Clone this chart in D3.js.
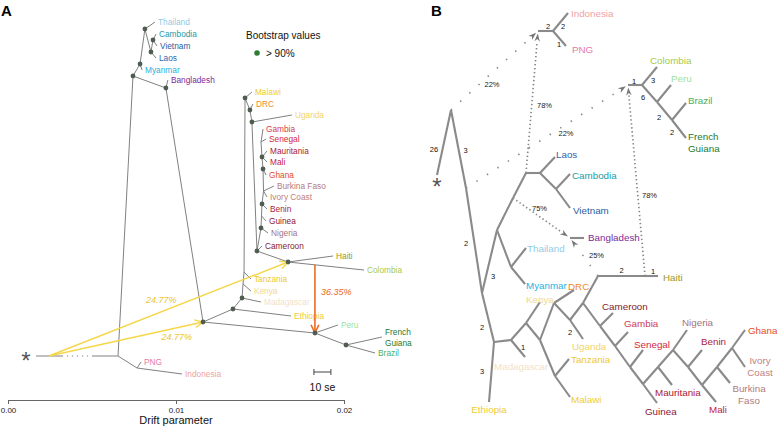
<!DOCTYPE html>
<html><head><meta charset="utf-8">
<script src="https://cdn.jsdelivr.net/npm/d3@7"></script>
<style>
body{margin:0;background:#fff}
svg{display:block}
text{font-family:"Liberation Sans",Arial,Helvetica,sans-serif}
</style>
</head><body>
<svg id="c" width="777" height="427"></svg>
<script>
// ================= DATA =================
// ---- Panel A (TreeMix tree): x = drift parameter, y = layout row ----
const driftTicks = [0.00, 0.01, 0.02];
// [id, drift, row, bootstrap>90%]
const nodesA = [
  ["root",0.00655,89,false],["pi",0.00768,92,false],["a1",0.00744,19,true],
  ["my",0.00786,16,true],["top",0.00815,7.25,true],["la",0.00851,13,true],
  ["cv",0.00863,10,true],["bg",0.0094,22,true],["af0",0.01161,80.5,true],
  ["pe",0.01827,83.25,true],["fgb",0.02012,86.25,true],["et",0.01339,77.25,true],
  ["md",0.01393,74.5,true],["ke",0.01399,71,false],["tz",0.01405,68,false],
  ["mw",0.01411,24.5,true],["drc",0.0144,27.5,true],["ug",0.01452,30.5,true],
  ["cm",0.01482,62.75,true],["hc",0.01667,65.5,true],["w_ng",0.01506,57,true],
  ["w_gu",0.01509,54,false],["w_be",0.01512,51,true],["w_bf",0.01521,47.75,false],
  ["w_gh",0.01518,42.25,true],["w_ma",0.01512,39.25,true],["w_se",0.01506,35.5,false]
];
const edgesA = [
  ["root","pi"],["root","a1"],["a1","my"],["my","top"],["top","la"],["la","cv"],
  ["a1","bg"],["bg","af0"],["af0","pe"],["pe","fgb"],["af0","et"],["et","md"],
  ["md","ke"],["ke","tz"],["tz","mw"],["mw","drc"],["drc","ug"],["ug","cm"],
  ["cm","hc"],["cm","w_ng"],["w_ng","w_gu"],["w_gu","w_be"],["w_be","w_bf"],
  ["w_bf","w_gh"],["w_gh","w_ma"],["w_ma","w_se"]
];
// [population, parent, drift, row]
const tipsA = [
  ["Thailand","top",0.00875,5.5],["Cambodia","cv",0.00881,8.5],["Vietnam","cv",0.00887,11.5],
  ["Laos","la",0.00881,14.5],["Myanmar","my",0.00798,17.5],["Bangladesh","bg",0.00952,20],
  ["Malawi","mw",0.01452,23],["DRC","drc",0.01458,26],["Uganda","ug",0.0169,28.75],
  ["Gambia","w_se",0.01518,32.25],["Senegal","w_se",0.01536,34.75],
  ["Mauritania","w_ma",0.01542,37.75],["Mali","w_ma",0.01542,40.5],
  ["Ghana","w_gh",0.01536,43.75],["Burkina Faso","w_bf",0.01583,46.5],
  ["Ivory Coast","w_bf",0.01542,49.25],["Benin","w_be",0.01542,52.25],
  ["Guinea","w_gu",0.01536,55.25],["Nigeria","w_ng",0.01548,58.25],
  ["Cameroon","cm",0.01512,61.5],["Haiti","hc",0.01935,64],["Colombia","hc",0.02119,67.5],
  ["Tanzania","tz",0.01446,69.75],["Kenya","ke",0.01446,72.75],
  ["Madagascar","md",0.01506,75.5],["Ethiopia","et",0.01685,79],
  ["Peru","pe",0.01964,81.25],["French Guiana","fgb",0.02226,84.25],
  ["Brazil","fgb",0.02185,88.25],["PNG","pi",0.00792,90.5],["Indonesia","pi",0.01036,93.5]
];
// outgroup branch: asterisk, solid start, dotted start, dotted end (drift)
const outgroupA = [0.00107, 0.00167, 0.00321, 0.00506];
// migration edges: source point [drift,row], target node, weight
const migrationsA = [
  {from:[0.00244,89], to:"hc",  weight:"24.77%", kind:"yellow"},
  {from:[0.00244,89], to:"af0", weight:"24.77%", kind:"yellow"},
  {from:[0.01827,66.2], to:"pe", weight:"36.35%", kind:"orange"}
];
const seBar = {drift:0.01821, length:0.00101, row:93, label:"10 se"};
const legendA = {title:"Bootstrap values", item:"> 90%"};

// ---- Panel B (admixture graph), layout units ----
const nodesB = [
  ["star",9.25,43.75],["T0",12.75,27.5],["N1",16.5,47],["B0",20.5,73.25],["A2",24.25,57.5],
  ["P75",28.25,49.5],["AS",31.5,43.25],["AL",35,43.25],["CV",39,47.25],["TM",27.75,66.75],
  ["E2",23.5,85.5],["M1",27.75,85],["K1",31.5,80.75],["K2",35,85],["D1",38.5,75.75],
  ["U1",42.5,80],["W0",45.75,75.75],["H0",49.5,69],["H1",61.25,69],["MT",38.75,94],
  ["C1",50,81.5],["G1",53.75,86.5],["S1",57.5,91.75],["X1",60.75,96],["MA1",64.5,91.75],
  ["NW",68.25,87.5],["BE1",72,91.75],["ML1",75.5,96.25],["BF1",79.25,91.75],["IC1",83,87],
  ["PA",34.5,7.75],["PB",38.25,7.75],["CA",57,21.25],["CB",60.5,21.25],["CP",64.25,25.5],
  ["CBr",68,30],["BA",42.5,59.5]
];
const edgesB = [
  ["star","T0"],["T0","N1"],["N1","B0"],["B0","A2"],["A2","P75"],["P75","AS"],["AS","AL"],
  ["AL","CV"],["A2","TM"],["B0","E2"],["E2","M1"],["M1","K1"],["K1","K2"],["K2","D1"],
  ["D1","U1"],["U1","W0"],["W0","H0"],["H0","H1"],["W0","C1"],["C1","G1"],["G1","S1"],
  ["S1","X1"],["X1","MA1"],["MA1","NW"],["NW","BE1"],["BE1","ML1"],["ML1","BF1"],
  ["BF1","IC1"],["K2","MT"],["PA","PB"],["CA","CB"],["CB","CP"],["CP","CBr"]
];
const tipsB = [
  ["Indonesia","PB",42,3.25],["PNG","PB",41.5,11.5],["Colombia","CB",64.25,16.75],
  ["Peru","CP",67.75,21.25],["Brazil","CBr",71.5,25.75],["French Guiana","CBr",71.5,34.5],
  ["Laos","AL",38.75,39.25],["Cambodia","CV",42.5,43.5],["Vietnam","CV",42.5,52],
  ["Bangladesh","BA",46,59.5],["Thailand","TM",31.5,62],["Myanmar","TM",31.25,71],
  ["DRC","D1",43.5,72.5],["Kenya","K1",35,75.5],["Haiti","H1",64.5,69],
  ["Cameroon","C1",53.25,78.25],["Gambia","G1",57,83],["Senegal","S1",60.75,87.5],
  ["Uganda","U1",45.75,84.75],["Tanzania","MT",42.25,89.75],["Malawi","MT",42.5,99.25],
  ["Madagascar","M1",31.25,89.25],["Ethiopia","E2",22.25,100.5],["Guinea","X1",64.25,100.75],
  ["Mauritania","MA1",68,96.25],["Nigeria","NW",71.75,82.5],["Benin","BE1",75.5,87.5],
  ["Mali","ML1",79,100.5],["Burkina Faso","BF1",82.5,95.75],["Ivory Coast","IC1",86.25,91.75],
  ["Ghana","IC1",86.25,82.5]
];
// drift values written on edges
const edgeWeightsB = [
  ["star","T0","26"],["T0","N1","3"],["N1","B0","2"],["B0","A2","3"],["B0","E2","2"],
  ["E2","Ethiopia","3"],["M1","Madagascar","1"],["U1","Uganda","2"],["H0","H1","2"],
  ["H1","Haiti","1"],["PA","PB","2"],["PB","Indonesia","2"],["PB","PNG","1"],
  ["CA","CB","1"],["CB","Colombia","3"],["CB","CP","6"],["CP","CBr","2"],["CBr","French Guiana","2"]
];
// admixture edges [from, to, percent]
const admixB = [
  ["T0","PA",22],["AS","PA",78],["N1","CA",22],["H1","CA",78],["P75","BA",75],["H0","BA",25]
];

const popColor = {
  "Thailand":"#92cbe6","Cambodia":"#1c9aa6","Vietnam":"#2d5c9c","Laos":"#2f64ad",
  "Myanmar":"#1cb3e0","Bangladesh":"#7b2b99","Malawi":"#f0cd2b","DRC":"#ec8a1f",
  "Uganda":"#f3d566","Tanzania":"#efc92e","Kenya":"#f2d88f","Madagascar":"#f4dfc6",
  "Ethiopia":"#f0cc38","Gambia":"#cf404f","Senegal":"#d2283e","Mauritania":"#ac1a30",
  "Mali":"#c5203c","Ghana":"#e44b27","Burkina Faso":"#b47b7d","Ivory Coast":"#bf7f82",
  "Benin":"#ac2338","Guinea":"#891739","Nigeria":"#a67480","Cameroon":"#891a29",
  "Haiti":"#9c9819","Colombia":"#a6c94b","Peru":"#a0df9a","Brazil":"#48b066",
  "French Guiana":"#1d7a2d","PNG":"#e67aa6","Indonesia":"#efa3a3"
};

// ================= DRAWING =================
const svg = d3.select("#c");
const xA = d3.scaleLinear().domain([0,0.02]).range([8,344]);
const yA = d3.scaleLinear().domain([0,100]).range([0,400]);
const xB = d3.scaleLinear().domain([0,100]).range([400,800]);
const yB = d3.scaleLinear().domain([0,100]).range([0,400]);

function addLabel(g, x, y, lines, anchor, lh, fs, color){
  const t = g.append("text").attr("x",x).attr("y",y).attr("text-anchor",anchor)
    .attr("font-size",fs).attr("fill",color).attr("dominant-baseline","central");
  lines.forEach((s,i)=>t.append("tspan").attr("x",x).attr("dy", i===0? (-(lines.length-1)*lh/2)+"px" : lh+"px").text(s));
  return t;
}

// ---------- Panel A ----------
const gA = svg.append("g");
const nA = new Map(nodesA.map(d=>[d[0],{x:xA(d[1]),y:yA(d[2]),boot:d[3]}]));
const lineCol = "#818181";

// axis
const axis = d3.axisBottom(xA).tickValues(driftTicks).tickFormat(d3.format(".2f")).tickSize(4).tickSizeOuter(0);
const ax = gA.append("g").attr("transform","translate(0,400)").call(axis);
ax.select(".domain").attr("stroke","#666");
ax.selectAll(".tick line").attr("stroke","#666");
ax.selectAll(".tick text").attr("font-size",8).attr("fill","#222").attr("font-family","Liberation Sans, Arial, sans-serif");
gA.append("text").attr("x",xA(0.01)).attr("y",424).attr("text-anchor","middle")
  .attr("font-size",11).attr("fill","#111").text("Drift parameter");

// outgroup
const rootA = nA.get("root");
gA.append("line").attr("x1",xA(outgroupA[1])).attr("x2",xA(outgroupA[2])).attr("y1",rootA.y).attr("y2",rootA.y).attr("stroke",lineCol).attr("stroke-width",1);
gA.append("line").attr("x1",xA(outgroupA[2])).attr("x2",xA(outgroupA[3])).attr("y1",rootA.y).attr("y2",rootA.y).attr("stroke",lineCol).attr("stroke-width",1.2).attr("stroke-dasharray","1.2,3.8");
gA.append("line").attr("x1",xA(outgroupA[3])).attr("x2",rootA.x).attr("y1",rootA.y).attr("y2",rootA.y).attr("stroke",lineCol).attr("stroke-width",1);
gA.append("text").attr("x",xA(outgroupA[0])).attr("y",rootA.y+13).attr("text-anchor","middle").attr("font-size",24).attr("fill","#555").text("*");

// edges
edgesA.forEach(([a,b])=>{
  const p=nA.get(a), q=nA.get(b);
  gA.append("line").attr("x1",p.x).attr("y1",p.y).attr("x2",q.x).attr("y2",q.y).attr("stroke",lineCol).attr("stroke-width",1);
});
tipsA.forEach(([name,par,d,r])=>{
  const p=nA.get(par), x=xA(d), y=yA(r);
  gA.append("line").attr("x1",p.x).attr("y1",p.y).attr("x2",x).attr("y2",y).attr("stroke",lineCol).attr("stroke-width",1);
  const lines = name==="French Guiana" ? ["French","Guiana"] : [name];
  addLabel(gA, x+3, y, lines, "start", 11, 8.3, popColor[name]);
});

// migrations
const migCol = {yellow:"#f6d64a", orange:"#ee6b22"};
const migLabCol = {yellow:"#e9c431", orange:"#ea6a22"};
const migLabelPlace = [{t:0.47,dx:0,dy:-12,a:"middle"},{t:0.83,dx:0,dy:9,a:"middle"},{t:0.4,dx:6,dy:0,a:"start"}];
function chevron(g,x1,y1,x2,y2,len,col,w){
  const a=Math.atan2(y2-y1,x2-x1), s=0.45;
  const p1=[x2-len*Math.cos(a-s), y2-len*Math.sin(a-s)];
  const p2=[x2-len*Math.cos(a+s), y2-len*Math.sin(a+s)];
  g.append("path").attr("d",`M${p1[0]},${p1[1]}L${x2},${y2}L${p2[0]},${p2[1]}`)
    .attr("fill","none").attr("stroke",col).attr("stroke-width",w);
}
migrationsA.forEach((m,i)=>{
  const x1=xA(m.from[0]), y1=yA(m.from[1]), q=nA.get(m.to);
  const w = m.kind==="orange"?1.6:1.4;
  gA.append("line").attr("x1",x1).attr("y1",y1).attr("x2",q.x).attr("y2",q.y).attr("stroke",migCol[m.kind]).attr("stroke-width",w);
  chevron(gA,x1,y1,q.x,q.y,9,migCol[m.kind],w);
  const L=migLabelPlace[i];
  gA.append("text").attr("x",x1+(q.x-x1)*L.t+L.dx).attr("y",y1+(q.y-y1)*L.t+L.dy)
    .attr("text-anchor",L.a).attr("dominant-baseline","central").attr("font-size",9)
    .attr("font-style","italic").attr("fill",migLabCol[m.kind]).text(m.weight);
});

// bootstrap dots
nodesA.filter(d=>d[3]).forEach(d=>{
  gA.append("circle").attr("cx",xA(d[1])).attr("cy",yA(d[2])).attr("r",2.4).attr("fill","#4e5d50");
});

// scale bar
const sbx1=xA(seBar.drift), sbx2=xA(seBar.drift+seBar.length), sby=yA(seBar.row);
gA.append("path").attr("d",`M${sbx1},${sby-3}V${sby+3}M${sbx1},${sby}H${sbx2}M${sbx2},${sby-3}V${sby+3}`)
  .attr("stroke","#444").attr("fill","none").attr("stroke-width",1);
gA.append("text").attr("x",(sbx1+sbx2)/2).attr("y",sby+15).attr("text-anchor","middle")
  .attr("dominant-baseline","central").attr("font-size",10.5).attr("fill","#111").text(seBar.label);

// legend
gA.append("text").attr("x",246).attr("y",35).attr("dominant-baseline","central").attr("font-size",10).attr("fill","#111").text(legendA.title);
gA.append("circle").attr("cx",257).attr("cy",53).attr("r",2.8).attr("fill","#2e7b34");
gA.append("text").attr("x",266).attr("y",53).attr("dominant-baseline","central").attr("font-size",10).attr("fill","#111").text(legendA.item);

// panel letters
svg.append("text").attr("x",1).attr("y",16).attr("font-size",15).attr("font-weight","bold").attr("fill","#000").text("A");
svg.append("text").attr("x",431).attr("y",16).attr("font-size",15).attr("font-weight","bold").attr("fill","#000").text("B");

// ---------- Panel B ----------
const gB = svg.append("g");
const nB = new Map(nodesB.map(d=>[d[0],{x:xB(d[1]),y:yB(d[2])}]));
tipsB.forEach(d=>nB.set(d[0],{x:xB(d[2]),y:yB(d[3]),parent:d[1]}));
const colB = "#8a8a8a";

// admixture dotted edges
const admixLabelOff = {"T0-PA":[-2.5,13.5],"AS-PA":[12.5,3],"N1-CA":[19,-3.5],"H1-CA":[13,14.5],"P75-BA":[-2,-10],"H0-BA":[12.5,-2]};
admixB.forEach(([a,b,pct])=>{
  const p=nB.get(a), q=nB.get(b);
  const ang=Math.atan2(q.y-p.y,q.x-p.x), gap=2.5, len=8, wid=5.5;
  const tip=[q.x-gap*Math.cos(ang), q.y-gap*Math.sin(ang)];
  const base=[tip[0]-len*Math.cos(ang), tip[1]-len*Math.sin(ang)];
  gB.append("line").attr("x1",p.x).attr("y1",p.y).attr("x2",base[0]).attr("y2",base[1])
    .attr("stroke","#888").attr("stroke-width",1.7)
    .attr("stroke-dasharray", pct>=50 ? "1.4,2.6" : "1.4,11");
  const px=-Math.sin(ang), py=Math.cos(ang);
  const notch=[tip[0]-0.7*len*Math.cos(ang), tip[1]-0.7*len*Math.sin(ang)];
  gB.append("path").attr("d",`M${tip[0]},${tip[1]}L${base[0]+px*wid/2},${base[1]+py*wid/2}L${notch[0]},${notch[1]}L${base[0]-px*wid/2},${base[1]-py*wid/2}Z`)
    .attr("fill","#777");
  const off=admixLabelOff[a+"-"+b];
  gB.append("text").attr("x",(p.x+q.x)/2+off[0]).attr("y",(p.y+q.y)/2+off[1]).attr("text-anchor","middle")
    .attr("dominant-baseline","central").attr("font-size",7.5).attr("fill","#222").text(pct+"%");
});

// tree edges
const allEdgesB = edgesB.concat(tipsB.map(d=>[d[1],d[0]]));
allEdgesB.forEach(([a,b])=>{
  const p=nB.get(a), q=nB.get(b);
  gB.append("line").attr("x1",p.x).attr("y1",p.y).attr("x2",q.x).attr("y2",q.y)
    .attr("stroke",colB).attr("stroke-width",2.1).attr("stroke-linecap","butt");
});

// asterisk
const st=nB.get("star");
gB.append("text").attr("x",st.x).attr("y",st.y+20).attr("text-anchor","middle").attr("font-size",24).attr("fill","#555").text("*");

// edge weight labels
const edgeLabOff = {
  "star-T0":[-10,7],"T0-N1":[7,1],"N1-B0":[-8,3],"B0-A2":[3.5,14.5],"B0-E2":[-6,9.5],
  "E2-Ethiopia":[-9.5,-1],"M1-Madagascar":[5,-1.5],"U1-Uganda":[-6.5,2.5],"H0-H1":[0,-6],
  "H1-Haiti":[1.5,-5],"PA-PB":[2.5,-5],"PB-Indonesia":[2.5,4],"PB-PNG":[-0.5,5.5],
  "CA-CB":[-1,-4],"CB-Colombia":[3.5,4],"CB-CP":[-6.5,3.5],"CP-CBr":[-5.5,6],"CBr-French Guiana":[-7,3]
};
edgeWeightsB.forEach(([a,b,lab])=>{
  const p=nB.get(a), q=nB.get(b), off=edgeLabOff[a+"-"+b];
  gB.append("text").attr("x",(p.x+q.x)/2+off[0]).attr("y",(p.y+q.y)/2+off[1]).attr("text-anchor","middle")
    .attr("dominant-baseline","central").attr("font-size",7.5).attr("fill","#111").text(lab);
});

// tip labels
const labelPosB = {
  "Indonesia":[3,0,"start"],"PNG":[6,3,"start"],"Colombia":[-7,-7,"start"],"Peru":[0,-7,"start"],
  "Brazil":[2,-3,"start"],"French Guiana":[2,4,"start"],"Laos":[1,-3,"start"],"Cambodia":[2,1,"start"],
  "Vietnam":[3,2,"start"],"Bangladesh":[4,-1,"start"],"Thailand":[1,0,"start"],"Myanmar":[1,1,"start"],
  "DRC":[-6,-4,"start"],"Kenya":[-14,-3,"start"],"Haiti":[5,1,"start"],"Cameroon":[-11,-7,"start"],
  "Gambia":[-4,-9,"start"],"Senegal":[-9,-6,"start"],"Uganda":[-11,7,"start"],"Tanzania":[2,0,"start"],
  "Malawi":[1,2,"start"],"Madagascar":[-4,9,"middle"],"Ethiopia":[0,7,"middle"],"Guinea":[-12,8,"start"],
  "Mauritania":[-17,7,"start"],"Nigeria":[-5,-8,"start"],"Benin":[-1,-9,"start"],"Mali":[-7,7,"start"],
  "Burkina Faso":[19,11,"middle"],"Ivory Coast":[15,-1,"middle"],"Ghana":[3,0,"start"]
};
const multiLine = {"French Guiana":["French","Guiana"],"Burkina Faso":["Burkina","Faso"],"Ivory Coast":["Ivory","Coast"]};
tipsB.forEach(([name])=>{
  const p=nB.get(name), o=labelPosB[name];
  addLabel(gB, p.x+o[0], p.y+o[1], multiLine[name]||[name], o[2], 12, 9.8, popColor[name]);
});
</script>
</body></html>
